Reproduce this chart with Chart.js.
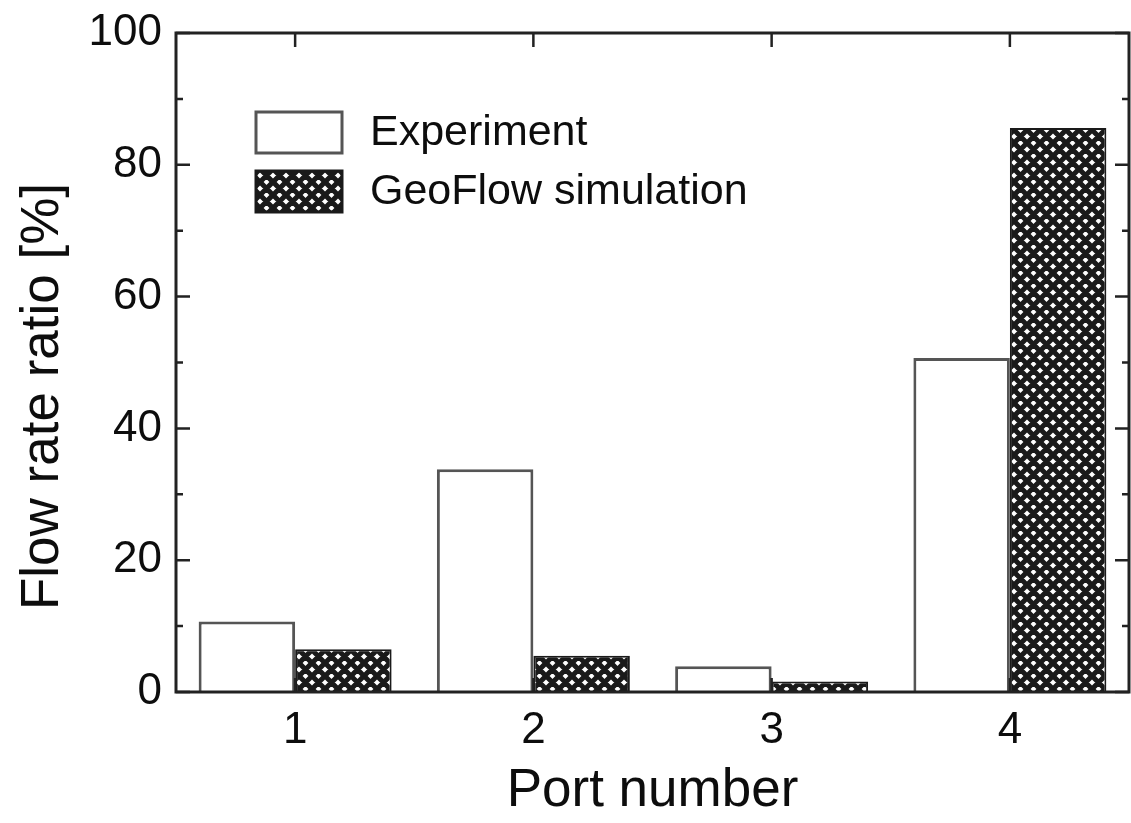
<!DOCTYPE html>
<html lang="en">
<head>
  <meta charset="UTF-8" />
  <title>Flow rate ratio</title>
  <script src="https://cdn.jsdelivr.net/npm/chart.js"></script>
  <style>
    html, body { margin: 0; padding: 0; background: #fff; }
    #wrap { width: 1131px; height: 823px; }
  </style>
</head>
<body>
  <div id="wrap"><canvas id="chart" width="1131" height="823"></canvas></div>

  <script>
    const ports = ['1', '2', '3', '4'];
    const experiment = [10.7, 33.8, 3.9, 50.7];
    const geoflow = [6.5, 5.5, 1.6, 85.6];
    const seriesNames = ['Experiment', 'GeoFlow simulation'];
    const yMajor = [0, 20, 40, 60, 80, 100];
    const yMinor = [10, 30, 50, 70, 90];

    const FONT = "'Liberation Sans', Arial, sans-serif";
    const INK = '#0d0d0d';

    // dense diagonal cross-hatch used for the simulation bars
    function crossHatch() {
      const s = 13;
      const c = document.createElement('canvas');
      c.width = s;
      c.height = s;
      const g = c.getContext('2d');
      g.fillStyle = '#fff';
      g.fillRect(0, 0, s, s);
      g.strokeStyle = '#1a1a1a';
      g.lineWidth = 5.1;
      g.beginPath();
      for (const d of [-s, 0, s]) {
        g.moveTo(d - 2, -2); g.lineTo(d + s + 2, s + 2);
        g.moveTo(d + s + 2, -2); g.lineTo(d - 2, s + 2);
      }
      g.stroke();
      return g.createPattern(c, 'repeat');
    }

    // closed frame with inward ticks, legend inside the plot, rotated y title
    const framePlugin = {
      id: 'frame',
      afterDatasetsDraw(chart) {
        const { ctx, chartArea: a, scales: { x, y } } = chart;
        ctx.save();
        ctx.strokeStyle = '#222';
        ctx.lineWidth = 3;
        ctx.strokeRect(a.left, a.top, a.right - a.left, a.bottom - a.top);

        ctx.lineWidth = 2.5;
        ctx.beginPath();
        yMajor.concat(yMinor).forEach(v => {
          const py = y.getPixelForValue(v);
          const len = yMajor.includes(v) ? 14 : 7;
          ctx.moveTo(a.left, py); ctx.lineTo(a.left + len, py);
          ctx.moveTo(a.right, py); ctx.lineTo(a.right - len, py);
        });
        ports.forEach((p, i) => {
          const px = x.getPixelForValue(i);
          ctx.moveTo(px, a.bottom); ctx.lineTo(px, a.bottom - 14);
          ctx.moveTo(px, a.top); ctx.lineTo(px, a.top + 14);
        });
        ctx.stroke();

        // legend
        ctx.font = `43px ${FONT}`;
        ctx.textBaseline = 'middle';
        ctx.textAlign = 'left';
        chart.data.datasets.forEach((ds, i) => {
          const bx = a.left + 80;
          const by = a.top + 79 + i * 59;
          ctx.fillStyle = ds.backgroundColor;
          ctx.fillRect(bx, by, 86, 41);
          ctx.strokeStyle = ds.borderColor;
          ctx.lineWidth = 3;
          ctx.strokeRect(bx, by, 86, 41);
          ctx.fillStyle = INK;
          ctx.fillText(ds.label, bx + 114, by + 21);
        });

        // y axis title
        ctx.translate(43, (a.top + a.bottom) / 2 + 34);
        ctx.rotate(-Math.PI / 2);
        ctx.textAlign = 'center';
        ctx.font = `53px ${FONT}`;
        ctx.fillStyle = INK;
        ctx.fillText('Flow rate ratio [%]', 0, 0);
        ctx.restore();
      }
    };

    new Chart(document.getElementById('chart'), {
      type: 'bar',
      data: {
        labels: ports,
        datasets: [
          {
            label: seriesNames[0],
            data: experiment,
            backgroundColor: '#ffffff',
            borderColor: '#555555',
            borderWidth: 3
          },
          {
            label: seriesNames[1],
            data: geoflow,
            backgroundColor: crossHatch(),
            borderColor: '#1a1a1a',
            borderWidth: 2
          }
        ]
      },
      options: {
        responsive: false,
        animation: false,
        categoryPercentage: 0.81,
        barPercentage: 1,
        layout: { padding: { top: 33, right: 2, left: 0, bottom: 0 } },
        plugins: {
          legend: { display: false },
          tooltip: { enabled: false }
        },
        scales: {
          x: {
            grid: { display: false, drawTicks: false },
            border: { display: false },
            ticks: { font: { family: FONT, size: 44 }, color: INK, padding: 12 },
            title: {
              display: true,
              text: 'Port number',
              font: { family: FONT, size: 53 },
              color: INK,
              padding: { top: 0, bottom: 0 }
            },
            afterFit: s => { s.height = 131; s.paddingLeft = 0; s.paddingRight = 0; }
          },
          y: {
            min: 0,
            max: 100,
            grid: { display: false, drawTicks: false },
            border: { display: false },
            ticks: { stepSize: 20, font: { family: FONT, size: 44 }, color: INK, padding: 14 },
            afterFit: s => { s.width = 176; s.paddingTop = 0; s.paddingBottom = 0; }
          }
        }
      },
      plugins: [framePlugin]
    });
  </script>
</body>
</html>
